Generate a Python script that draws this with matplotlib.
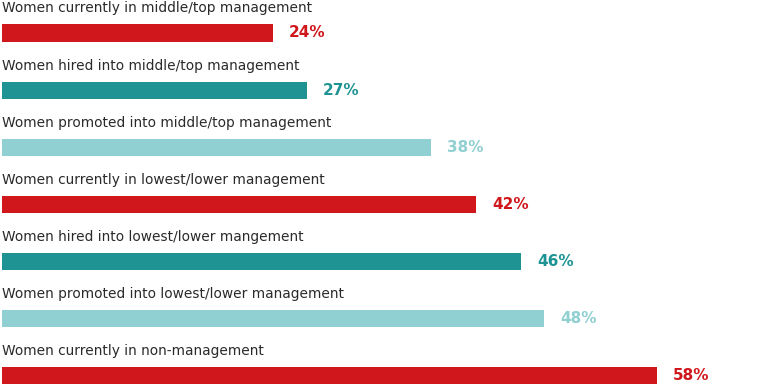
import matplotlib

matplotlib.use("Agg")
import matplotlib.pyplot as plt

categories = [
    "Women currently in middle/top management",
    "Women hired into middle/top management",
    "Women promoted into middle/top management",
    "Women currently in lowest/lower management",
    "Women hired into lowest/lower mangement",
    "Women promoted into lowest/lower management",
    "Women currently in non-management",
]
values = [24, 27, 38, 42, 46, 48, 58]
groups = ["current", "hired", "promoted", "current", "hired", "promoted", "current"]

palette = {"current": "#d0171c", "hired": "#1f9394", "promoted": "#90cfd2"}

fig = plt.figure(figsize=(7.68, 3.9), dpi=100)
ax = fig.add_axes([0, 0, 1, 1])

px = 11.29  # pixels per percentage point
ax.set_xlim(-2 / px, 766 / px)
ax.set_ylim(6.254, -0.578)

positions = list(range(len(values)))
colors = [palette[g] for g in groups]
ax.barh(positions, values, height=0.3, color=colors)

for pos, label, value, color in zip(positions, categories, values, colors):
    ax.text(0, pos - 0.36, label, ha="left", va="baseline",
            fontsize=9.9, color="#2a2a2a", family="DejaVu Sans")
    ax.text(value + 16 / px, pos, f"{value}%", ha="left", va="center",
            fontsize=11, fontweight="heavy", color=color, family="DejaVu Sans")

ax.axis("off")
fig.savefig("out.png", dpi=100)
